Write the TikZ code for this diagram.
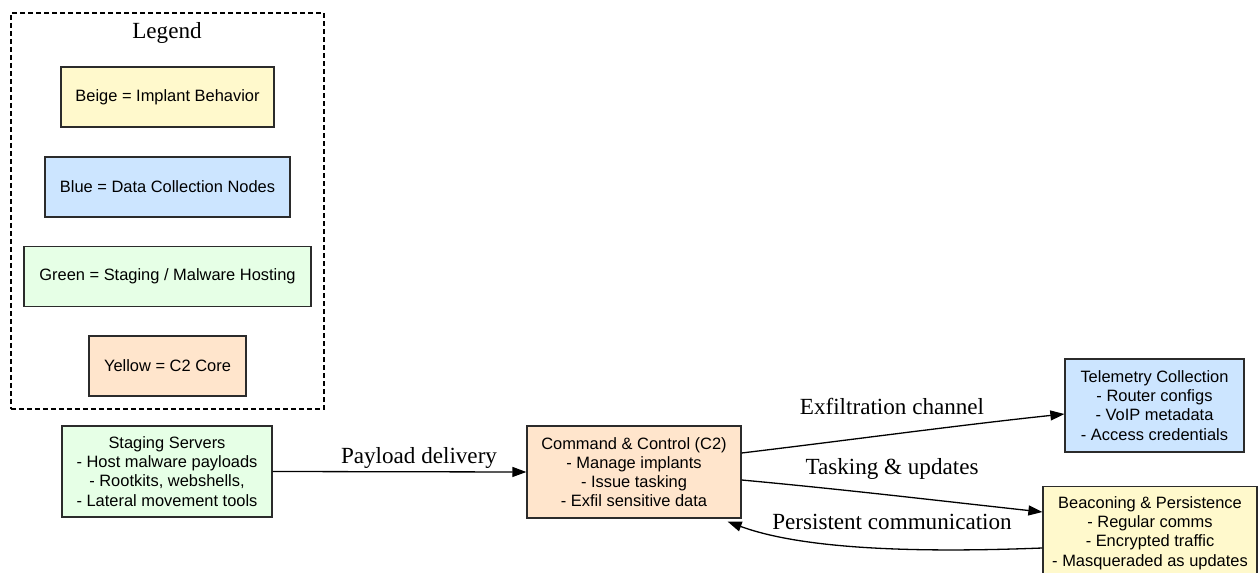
\documentclass[tikz,border=0pt]{standalone}
\usepackage{fontspec}
\setmainfont{Liberation Serif}
\newfontfamily\boxfont{Liberation Sans}
\usetikzlibrary{arrows.meta,calc}
\definecolor{beige}{HTML}{FFF9CC}
\definecolor{lblue}{HTML}{CCE5FF}
\definecolor{lgreen}{HTML}{E6FFE6}
\definecolor{peach}{HTML}{FFE5CC}
\definecolor{edgec}{HTML}{2B2B2B}
\tikzset{
  box/.style={draw=edgec, line width=1.3bp, inner sep=0pt, align=center,
    font=\boxfont\fontsize{16.5}{19.3}\selectfont},
  lbl/.style={font=\fontsize{23.2}{26}\selectfont, inner sep=0pt},
  conn/.style={draw=black, line width=1.3bp, -{Triangle[length=14bp,width=10bp]}},
}
\begin{document}
\begin{tikzpicture}[x=1bp,y=-1bp]
\path[use as bounding box, clip] (0,0) rectangle (1258,573);
% legend
\node[draw=black, dashed, dash pattern=on 5bp off 3bp, line width=1.2bp, minimum width=313bp, minimum height=396bp, inner sep=0pt] (legendbox) at (167.5,211) {};
\node[lbl] (legendtitle) at (167,33) {Legend};
\node[box, fill=beige, minimum width=213bp, minimum height=60bp] (lbeige) at (167.5,97) {Beige = Implant Behavior};
\node[box, fill=lblue, minimum width=245bp, minimum height=60bp] (lblue) at (167.5,187) {Blue = Data Collection Nodes};
\node[box, fill=lgreen, minimum width=287bp, minimum height=60bp] (lgreen) at (167.5,276.5) {Green = Staging / Malware Hosting};
\node[box, fill=peach, minimum width=157bp, minimum height=60bp] (lpeach) at (167.5,366) {Yellow = C2 Core};
% main nodes
\node[box, fill=lgreen, minimum width=210bp, minimum height=91bp] (staging) at (167,471.5) {Staging Servers\\- Host malware payloads\\- Rootkits, webshells,\\- Lateral movement tools};
\node[box, fill=peach, minimum width=214bp, minimum height=92bp] (c2) at (634,472) {Command \& Control (C2)\\- Manage implants\\- Issue tasking\\- Exfil sensitive data};
\node[box, fill=lblue, minimum width=179bp, minimum height=93bp] (tele) at (1154.5,405.5) {Telemetry Collection\\- Router configs\\- VoIP metadata\\- Access credentials};
\node[box, fill=beige, minimum width=214bp, minimum height=93bp] (beacon) at (1150,533) {Beaconing \& Persistence\\- Regular comms\\- Encrypted traffic\\- Masqueraded as updates};
% connectors
\draw[conn] (staging.east) -- (c2.west);
\node[lbl] (payl) at (419,458) {Payload delivery};
\draw[conn] ($(c2.east)+(0,-19)$) .. controls (850,440) and (960,425) .. ($(tele.west)+(0,8.5)$);
\node[lbl] (exfl) at (892,406) {Exfiltration channel};
\draw[conn] ($(c2.east)+(0,8)$) .. controls (850,490) and (950,502) .. ($(beacon.west)+(0,-21)$);
\node[lbl] (taskl) at (892,469) {Tasking \& updates};
\draw[conn] ($(beacon.west)+(0,15)$) .. controls (940,552) and (810,552) .. ($(c2.south east)+(-14,3)$);
\node[lbl] (persl) at (892,522) {Persistent communication};
\end{tikzpicture}
\end{document}
